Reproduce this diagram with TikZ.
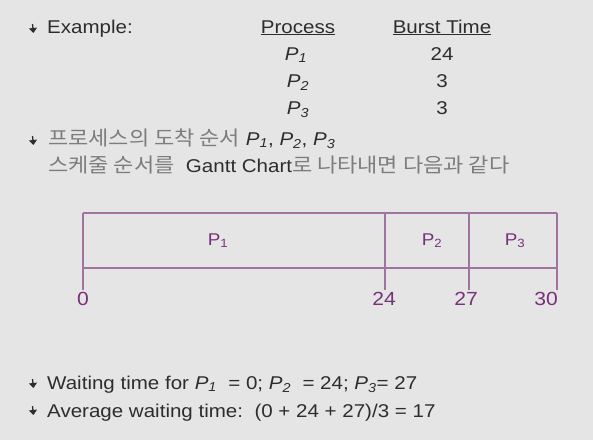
\documentclass[tikz,border=0pt]{standalone}
\usepackage{fontspec}
\setmainfont{Liberation Sans}[FakeStretch=1.11]
\newfontfamily\kr{Noto Sans CJK KR}[FakeStretch=1.1]
\usetikzlibrary{arrows.meta}
\definecolor{slidebg}{RGB}{229,229,229}
\definecolor{textgray}{RGB}{45,45,45}
\definecolor{krgray}{RGB}{125,125,125}
\definecolor{ganttpurple}{RGB}{120,50,120}
\definecolor{ganttline}{RGB}{160,115,160}
\newcommand{\pp}[1]{\textit{P}\textsubscript{\textit{#1}}}
\newcommand{\krtext}[1]{{\kr\fontsize{20}{22}\selectfont\color{krgray}#1}}
\tikzset{
  slidetext/.style={anchor=base west, inner sep=0pt, text=textgray, font=\fontsize{18.5}{22}\selectfont},
  tablecell/.style={slidetext, anchor=base},
  ganttlabel/.style={anchor=base, inner sep=0pt, text=ganttpurple, font=\fontsize{17}{20}\selectfont},
  ganttnum/.style={ganttlabel, font=\fontsize{19}{22}\selectfont},
  ganttrule/.style={draw=ganttline, line width=1.3pt},
  bulletarrow/.style={draw=textgray, line width=1.3pt, -{Triangle[length=5pt,width=8pt]}}
}
\begin{document}
\begin{tikzpicture}[x=1pt,y=-1pt]
\fill[slidebg] (0,0) rectangle (593,440);
% bullets
\foreach \y in {29,141,384,411}
  \draw[bulletarrow] (32.5,{\y-5}) -- (33.5,{\y+4});
% example table
\node[slidetext] (example) at (47,33) {Example:};
\node[tablecell] (process) at (298,33) {\underline{Process}};
\node[tablecell] (burst) at (442,33) {\underline{Burst Time}};
\node[tablecell] (p1) at (296,60) {\pp1};
\node[tablecell] (p2) at (298,87) {\pp2};
\node[tablecell] (p3) at (298,114) {\pp3};
\node[tablecell] (b1) at (442,60) {24};
\node[tablecell] (b2) at (442,87) {3};
\node[tablecell] (b3) at (442,114) {3};
\node[slidetext] (order) at (48,145) {\krtext{프로세스의 도착 순서} \pp1,\ \pp2,\ \pp3};
\node[slidetext] (chart) at (48,172) {\krtext{스케줄 순서를}\ \ Gantt Chart\krtext{로 나타내면 다음과 같다}};
% gantt chart
\coordinate (g0) at (83,213);
\coordinate (g24) at (385,213);
\coordinate (g27) at (469,213);
\coordinate (g30) at (557,213);
\draw[ganttrule] (g0) -- (g30);
\draw[ganttrule] (83,268) -- (557,268);
\foreach \t in {g0,g24,g27,g30}
  \draw[ganttrule] (\t) -- ++(0,77);
\node[ganttlabel] (gp1) at (218,245) {P\textsubscript{1}};
\node[ganttlabel] (gp2) at (432,245) {P\textsubscript{2}};
\node[ganttlabel] (gp3) at (515,245) {P\textsubscript{3}};
\node[ganttnum] (t0) at (83,305) {0};
\node[ganttnum] (t24) at (384,305) {24};
\node[ganttnum] (t27) at (466,305) {27};
\node[ganttnum, anchor=base east] (t30) at (558,305) {30};
% waiting times
\node[slidetext] (wait) at (47,389) {Waiting time for \pp1\ \ = 0; \pp2\ \ = 24; \pp3= 27};
\node[slidetext] (avg) at (47,417) {Average waiting time:\ \ (0 + 24 + 27)/3 = 17};
\end{tikzpicture}
\end{document}
